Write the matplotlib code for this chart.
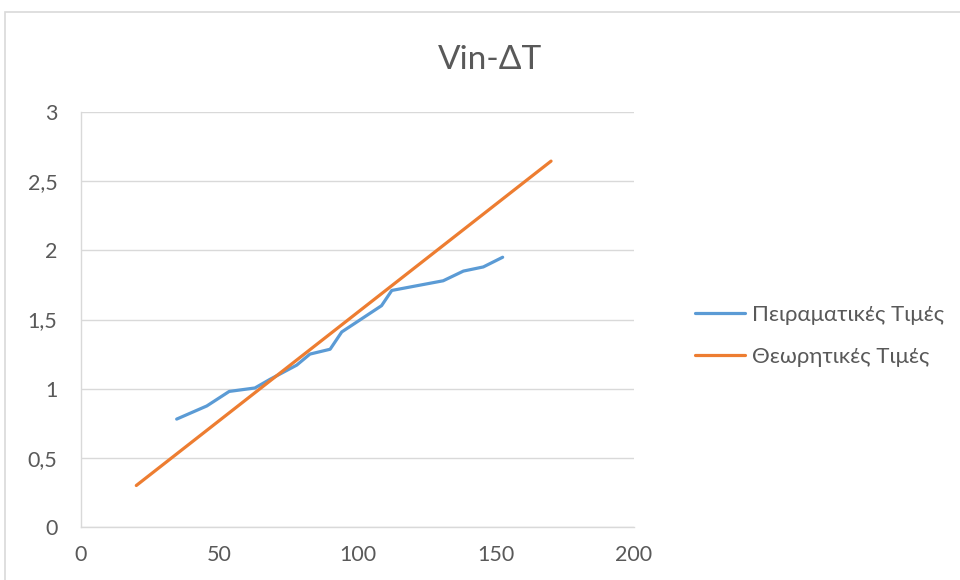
import matplotlib
matplotlib.use("Agg")
import matplotlib.pyplot as plt
from matplotlib.patches import Rectangle
from matplotlib.ticker import FuncFormatter

title = "Vin-ΔT"
exp_label = "Πειραματικές Τιμές"
theo_label = "Θεωρητικές Τιμές"

exp_x = [34.6, 45.5, 53.6, 62.9, 68.4, 78.0, 82.8, 90.1, 94.3, 108.7, 112.4, 131.0, 138.3, 145.5, 152.5]
exp_y = [0.78, 0.875, 0.98, 1.005, 1.068, 1.17, 1.25, 1.285, 1.41, 1.60, 1.71, 1.78, 1.85, 1.88, 1.95]

theo_x = [20, 170]
theo_y = [0.30, 2.645]

plt.rcParams['font.family'] = ['Lato', 'DejaVu Sans']

fig = plt.figure(figsize=(9.6, 5.8), dpi=100)
fig.patch.set_facecolor('white')
fig.patches.append(Rectangle((5/960, -0.1), 1.2, 1 - 12/580 + 0.1, transform=fig.transFigure,
                             fill=False, edgecolor='#d9d9d9', linewidth=1.2))

ax = fig.add_axes([81/960, 1 - 527/580, (634 - 81)/960, (527 - 112)/580])
ax.plot(exp_x, exp_y, color='#5B9BD5', linewidth=2.3, label=exp_label, solid_capstyle='round')
ax.plot(theo_x, theo_y, color='#ED7D31', linewidth=2.3, label=theo_label, solid_capstyle='round')

ax.set_xlim(0, 200)
ax.set_ylim(0, 3)
ax.set_xticks(range(0, 201, 50))
ax.set_yticks([0, 0.5, 1, 1.5, 2, 2.5, 3])
ax.yaxis.set_major_formatter(FuncFormatter(lambda v, p: f"{v:g}".replace('.', ',')))
ax.grid(axis='y', color='#d9d9d9', linewidth=1)
ax.set_axisbelow(True)
for s in ['top', 'right']:
    ax.spines[s].set_visible(False)
for s in ['left', 'bottom']:
    ax.spines[s].set_color('#d9d9d9')
    ax.spines[s].set_linewidth(1)
ax.tick_params(length=0, labelsize=15.5, labelcolor='#595959')
ax.tick_params(axis='y', pad=17)
ax.tick_params(axis='x', pad=13)

fig.text(490/960, 1 - 60/580, title, ha='center', va='center', fontsize=24, color='#595959')

leg = fig.legend(loc='center left', bbox_to_anchor=(695/960, 1 - 336/580),
                 bbox_transform=fig.transFigure, frameon=False,
                 fontsize=16, handlelength=2.25, handletextpad=0.32, labelspacing=1.0,
                 borderaxespad=0, borderpad=0)
for t in leg.get_texts():
    t.set_color('#595959')

fig.savefig('out.png', dpi=100)
